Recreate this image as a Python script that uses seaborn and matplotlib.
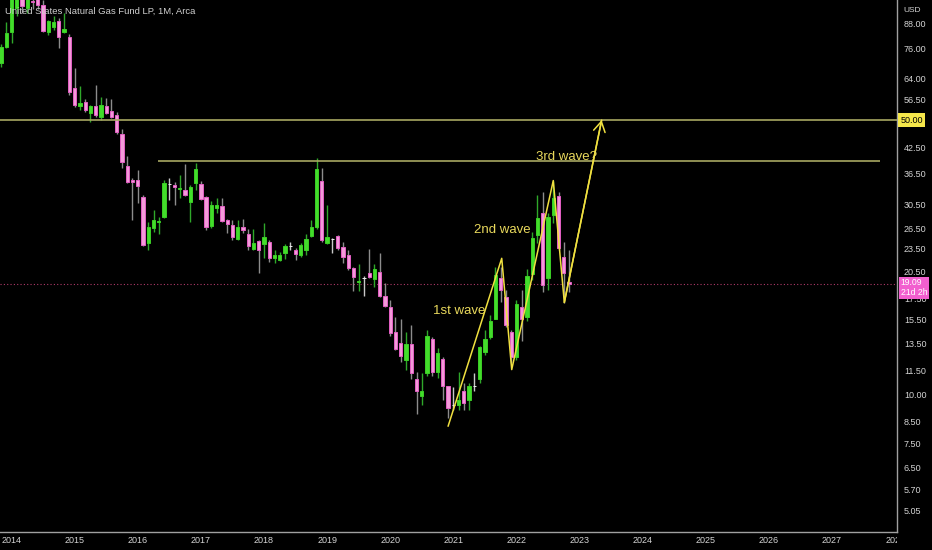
import numpy as np
import pandas as pd
import matplotlib
matplotlib.use("Agg")
import matplotlib.pyplot as plt
import seaborn as sns
from matplotlib.ticker import NullLocator
from matplotlib.transforms import Bbox, TransformedBbox, blended_transform_factory

# monthly candles, Nov 2013 .. Nov 2022
first_month = "2013-11"
opens = [69.9, 76.8, 83.8, 96.5, 105.0, 96.5, 100.5, 103.0, 98.2, 83.8, 86.3, 89.4, 83.8, 81.4,
         60.3, 54.3, 55.6, 52.1, 54.3, 50.9, 54.3, 52.7, 51.5, 46.1, 38.2, 35.2,
         35.2, 31.8, 24.3, 26.5, 27.5, 28.3, 34.3, 34.1, 33.3, 33.1, 30.9, 34.5,
         34.3, 31.8, 26.8, 29.8, 30.2, 27.8, 27.0, 24.9, 26.7, 25.6, 23.4, 24.6,
         24.1, 24.4, 22.2, 22.0, 22.9, 23.9, 23.3, 22.6, 23.3, 25.3, 26.7, 34.9,
         24.3, 24.8, 25.3, 23.7, 22.6, 21.0, 19.3, 19.8, 20.4, 19.7, 20.5, 17.8,
         16.7, 14.4, 13.5, 12.2, 13.4, 10.9, 9.9, 11.3, 13.8, 11.4, 12.3, 10.5,
         9.4, 9.4, 10.2, 9.68, 10.5, 10.9, 12.8, 14.0, 15.5, 19.8, 17.7, 14.4,
         12.4, 16.7, 15.7, 20.2, 25.4, 29.0, 19.8, 28.6, 32.0, 22.4, 19.3]
highs = [78.0, 88.9, 110.0, 112.0, 108.0, 106.0, 104.0, 106.0, 101.0, 90.0, 92.0, 91.0, 93.7, 83.0,
         67.9, 61.1, 56.5, 54.5, 61.4, 57.2, 56.9, 56.6, 52.4, 47.4, 40.5, 35.6,
         37.3, 32.2, 27.5, 29.5, 28.3, 35.2, 35.6, 34.7, 36.2, 38.6, 34.1, 38.8,
         34.9, 32.0, 31.0, 31.6, 31.6, 27.9, 27.8, 27.8, 28.0, 26.4, 26.4, 24.7,
         27.3, 24.7, 23.3, 23.0, 24.1, 24.4, 23.6, 24.3, 25.6, 27.8, 40.0, 37.7,
         30.4, 25.0, 25.4, 24.4, 23.3, 21.1, 21.5, 20.0, 23.4, 21.5, 22.9, 19.2,
         17.4, 15.7, 15.5, 14.4, 15.0, 11.4, 11.3, 14.6, 14.0, 13.1, 12.4, 10.5,
         10.4, 11.4, 10.7, 10.7, 11.3, 13.3, 14.6, 15.9, 21.1, 21.1, 18.4, 14.6,
         17.4, 18.4, 20.8, 25.9, 32.2, 32.8, 29.0, 35.0, 32.8, 24.4, 23.3]
lows = [68.3, 76.5, 78.6, 92.0, 94.0, 94.0, 96.0, 96.0, 83.8, 82.5, 85.0, 76.3, 83.3, 58.0,
        54.0, 53.0, 52.5, 49.4, 51.0, 50.0, 51.8, 50.5, 46.2, 37.7, 34.5, 27.8,
        30.7, 23.8, 23.3, 25.9, 25.6, 28.1, 31.3, 30.4, 31.6, 32.0, 27.5, 33.1,
        31.2, 26.2, 26.5, 29.0, 27.5, 25.8, 24.7, 24.7, 25.8, 23.3, 23.3, 20.4,
        22.2, 21.7, 21.6, 21.8, 22.1, 23.3, 22.0, 22.4, 22.6, 25.2, 26.4, 24.4,
        24.1, 22.9, 23.3, 21.6, 20.7, 18.3, 18.3, 17.8, 19.8, 18.8, 17.7, 16.7,
        14.1, 12.95, 12.1, 11.5, 10.9, 8.9, 9.4, 11.1, 11.1, 11.0, 9.68, 8.7,
        9.1, 9.1, 9.1, 9.1, 10.2, 10.7, 12.6, 13.8, 15.5, 17.2, 14.8, 12.0,
        12.2, 13.7, 15.4, 19.5, 24.3, 18.2, 18.4, 27.3, 23.3, 17.1, 18.2]
closes = [76.8, 83.3, 102.0, 103.0, 97.7, 103.0, 100.0, 98.2, 84.3, 89.4, 88.9, 81.4, 85.3, 58.9,
          54.6, 55.2, 53.0, 54.3, 51.5, 54.6, 52.1, 50.9, 46.6, 39.1, 34.7, 34.7,
          33.9, 24.0, 26.7, 27.8, 27.6, 34.5, 34.3, 33.7, 33.5, 32.2, 33.7, 37.5,
          31.4, 26.7, 30.4, 30.4, 27.6, 27.2, 25.2, 26.7, 26.2, 23.9, 24.3, 23.3,
          25.2, 22.2, 22.6, 22.6, 23.9, 23.9, 22.8, 24.0, 24.9, 26.7, 37.5, 24.7,
          25.2, 24.8, 23.6, 22.4, 21.0, 19.9, 19.4, 19.8, 19.9, 20.8, 17.8, 16.8,
          14.3, 13.0, 12.5, 13.4, 11.3, 10.2, 10.2, 14.1, 11.4, 12.7, 10.5, 9.2,
          9.4, 9.68, 9.5, 10.5, 10.5, 13.2, 13.8, 15.4, 20.1, 18.4, 15.0, 12.4,
          17.0, 15.5, 20.0, 25.0, 28.1, 19.0, 28.3, 31.6, 23.6, 20.4, 19.09]

title = "United States Natural Gas Fund LP, 1M, Arca"
last_price = 19.09
countdown = "21d 2h"

# horizontal levels (price, start month, end month; months counted from Jan 2014)
level_prices = [50.0, 39.3]
level_starts = [-3.0, 27.9]
level_ends = [172.0, 165.1]

# wave drawing
wave_months = [83.0, 93.2, 95.1, 103.0, 105.1, 112.2]
wave_prices = [8.28, 22.2, 11.55, 35.05, 17.13, 50.0]
wave_labels = ["1st wave", "2nd wave", "3rd wave?"]
label_months = [85.1, 93.4, 105.5]
label_prices = [16.3, 26.2, 40.2]

price_ticks = [88, 76, 64, 56.5, 42.5, 36.5, 30.5, 26.5, 23.5, 20.5, 17.5,
               15.5, 13.5, 11.5, 10, 8.5, 7.5, 6.5, 5.7, 5.05]
years = list(range(2014, 2029))

sns.set_theme(style="dark")
plt.rcParams.update({
    "figure.facecolor": "black",
    "axes.facecolor": "black",
    "savefig.facecolor": "black",
    "axes.edgecolor": "#a0a0a0",
    "text.color": "#d4d4d4",
    "xtick.color": "#d4d4d4",
    "ytick.color": "#d4d4d4",
    "axes.grid": False,
})
plt.rcParams["font.family"] = ["Liberation Sans Narrow", "Liberation Sans", "DejaVu Sans"]

months = pd.period_range(first_month, periods=len(opens), freq="M")
df = pd.DataFrame({
    "m": (months.year - 2014) * 12 + months.month - 1,
    "open": opens, "high": highs, "low": lows, "close": closes,
})
df["kind"] = np.where(df["close"] > df["open"], "up",
                      np.where(df["close"] < df["open"], "down", "flat"))

body_face = {"up": "#43dd2b", "down": "#f39ad9", "flat": "#eeeeee"}
body_edge = {"up": "#3bcf25", "down": "#e35fc4", "flat": "#eeeeee"}
wick_col = {"up": "#2fa82a", "down": "#8c8c8c", "flat": "#c8c8c8"}

fig = plt.figure(figsize=(9.32, 5.5), dpi=100)
ax = fig.add_axes([0, 18 / 550, 897 / 932, 532 / 550])
ax.set_yscale("log")

for kind, g in df.groupby("kind"):
    lo = g[["open", "close"]].min(axis=1)
    hi = g[["open", "close"]].max(axis=1)
    ax.vlines(g["m"], g["low"], g["high"], color=wick_col[kind], lw=1.0, zorder=2)
    ax.bar(g["m"], hi - lo, bottom=lo, width=0.62, color=body_face[kind],
           edgecolor=body_edge[kind], linewidth=0.7, zorder=3)

level_col = "#a8a862"
for p, s, e in zip(level_prices, level_starts, level_ends):
    ax.hlines(p, s, e, color=level_col, lw=1.2, zorder=4)

ax.axhline(last_price, color="#b03a6a", lw=0.8, ls=(0, (1, 2)), zorder=1)

wave_col = "#f0e040"
sns.lineplot(x=wave_months, y=wave_prices, sort=False, estimator=None,
             color=wave_col, lw=1.1, ax=ax, zorder=5)
ax.annotate("", xy=(wave_months[-1], wave_prices[-1]),
            xytext=(wave_months[-2], wave_prices[-2]),
            arrowprops=dict(arrowstyle="->,head_length=0.6,head_width=0.35",
                            color=wave_col, lw=1.1, shrinkA=0, shrinkB=0), zorder=5)
for txt, mx, py in zip(wave_labels, label_months, label_prices):
    ax.text(mx, py, txt, ha="center", va="center", fontsize=9.5, color="#e9d95c",
            family=["Liberation Sans", "DejaVu Sans"], zorder=6)

ax.set_xlim(-2.19, 168.35)
ax.set_ylim(4.45, 101.2)
ax.set_xlabel("")
ax.set_ylabel("")

ax.yaxis.tick_right()
ax.set_yticks(price_ticks)
ax.set_yticklabels([f"{t:.2f}" for t in price_ticks])
ax.yaxis.set_minor_locator(NullLocator())
ax.set_xticks([(y - 2014) * 12 for y in years])
ax.set_xticklabels([str(y) for y in years])
ax.tick_params(axis="y", length=0, pad=5, labelsize=6.5)
ax.tick_params(axis="x", length=0, pad=3, labelsize=6.5)

for side in ["top", "left"]:
    ax.spines[side].set_visible(False)
for side in ["right", "bottom"]:
    ax.spines[side].set_color("#a0a0a0")
    ax.spines[side].set_linewidth(1.0)

clip = TransformedBbox(Bbox([[0, 0], [897 / 932, 1]]), fig.transFigure)
for lbl in ax.get_xticklabels():
    lbl.set_clip_box(clip)
    lbl.set_clip_on(True)

trans = blended_transform_factory(ax.transAxes, ax.transData)
ax.text(1.004, level_prices[0], f"{level_prices[0]:.2f}", transform=trans, ha="left",
        va="center", fontsize=6.5, color="black", clip_on=False, zorder=10,
        bbox=dict(boxstyle="square,pad=0.25", fc="#f5e74a", ec="none"))
ax.annotate(f"{last_price:.2f}\n{countdown}", xy=(1.004, last_price), xycoords=trans,
            xytext=(0, 4), textcoords="offset points", ha="left", va="top",
            fontsize=6.2, color="white", linespacing=1.05, annotation_clip=False,
            zorder=10, bbox=dict(boxstyle="square,pad=0.2", fc="#f25fcf", ec="none"))

fig.text(903 / 932, 1 - 10 / 550, "USD", fontsize=6, va="center", ha="left", color="#d4d4d4")
ax.text(0.006, 1 - 11 / 532, title, transform=ax.transAxes, ha="left", va="center",
        fontsize=6.8, color="#cfcfcf", zorder=11)

fig.savefig("out.png", dpi=100, facecolor="black")
